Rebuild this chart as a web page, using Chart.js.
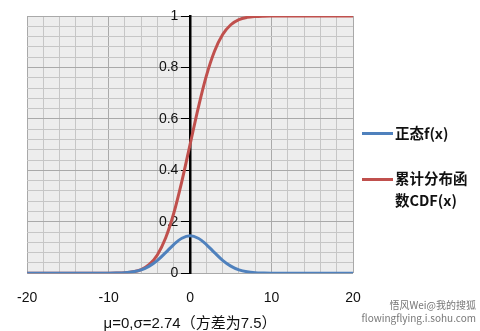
<!DOCTYPE html>
<html>
<head>
<meta charset="utf-8">
<script src="https://cdn.jsdelivr.net/npm/chart.js@4"></script>
<style>
  body { margin: 0; background: #fff; }
  #wrap { position: relative; width: 480px; height: 331px; }
  .lg { position: absolute; font-family: "Noto Sans CJK SC", sans-serif; font-weight: bold; font-size: 14.5px; color: #111; line-height: 22px; }
  .sw { position: absolute; height: 3px; width: 31px; }
  .wm { position: absolute; font-family: "Noto Sans CJK SC", sans-serif; font-size: 10px; color: #777; line-height: 13px; text-align: right; }
</style>
</head>
<body>
<div id="wrap">
  <canvas id="chart" width="480" height="331"></canvas>
  <div class="sw" style="left:362px;top:132px;background:#4f81bd"></div>
  <div class="lg" style="left:395px;top:122px">正态f(x)</div>
  <div class="sw" style="left:362px;top:178px;background:#c0504d"></div>
  <div class="lg" style="left:395px;top:167px;width:84px">累计分布函<br>数CDF(x)</div>
  <div class="wm" style="right:4px;top:298px">悟风Wei@我的搜狐<br>flowingflying.i.sohu.com</div>
</div>
<script>
const xValues = [-20,-19,-18,-17,-16,-15,-14,-13,-12,-11,-10,-9,-8,-7,-6,-5,-4,-3,-2,-1,0,
                 1,2,3,4,5,6,7,8,9,10,11,12,13,14,15,16,17,18,19,20];
const pdfValues = [0,0,0,0,0,0,0,0,0,0,0,0.0007,0.002,0.0055,0.0132,0.0275,0.050,0.080,0.1115,0.136,0.1456,
                   0.136,0.1115,0.080,0.050,0.0275,0.0132,0.0055,0.002,0.0007,0,0,0,0,0,0,0,0,0,0,0];
const cdfValues = [0,0,0,0,0,0,0,0,0,0,0.0001,0.0005,0.0018,0.0053,0.014,0.034,0.072,0.137,0.233,0.358,0.5,
                   0.642,0.767,0.863,0.928,0.966,0.986,0.9947,0.9982,0.9995,0.9999,1,1,1,1,1,1,1,1,1,1];
const xTicks = [-20, -10, 0, 10, 20];
const yTicks = [0, 0.2, 0.4, 0.6, 0.8, 1];

function toPoints(values) {
    return xValues.map((x, i) => ({ x: x, y: values[i] }));
}

const plotBg = {
    id: 'plotBg',
    beforeDraw(chart) {
        const a = chart.chartArea;
        chart.ctx.save();
        chart.ctx.fillStyle = '#ededed';
        chart.ctx.fillRect(a.left, a.top, a.right - a.left, a.bottom - a.top);
        chart.ctx.restore();
    }
};

const isMajorX = v => Math.abs(v % 10) < 1e-6;
const isMajorY = v => Math.abs(Math.round(v * 5) - v * 5) < 1e-6;

const config = {
    type: 'line',
    data: {
        datasets: [
            {
                label: '正态f(x)',
                data: toPoints(pdfValues),
                borderColor: '#4f81bd',
                borderWidth: 3,
                pointRadius: 0,
                cubicInterpolationMode: 'monotone',
            },
            {
                label: '累计分布函数CDF(x)',
                data: toPoints(cdfValues),
                borderColor: '#c0504d',
                borderWidth: 3,
                pointRadius: 0,
                cubicInterpolationMode: 'monotone',
            },
        ],
    },
    options: {
        responsive: false,
        animation: false,
        layout: { padding: { left: 8, right: 127, top: 16, bottom: -2 } },
        plugins: { legend: { display: false }, tooltip: { enabled: false } },
        scales: {
            x: {
                type: 'linear',
                min: -20,
                max: 20,
                border: { display: false },
                grid: {
                    color: ctx => isMajorX(ctx.tick.value) ? '#a9a9a9' : '#c6c6c6',
                    drawTicks: false,
                },
                ticks: {
                    stepSize: 2,
                    padding: 17,
                    maxRotation: 0,
                    autoSkip: false,
                    color: '#111',
                    font: { family: 'Liberation Sans', size: 14 },
                    callback: v => xTicks.includes(v) ? String(v) : '',
                },
                title: {
                    display: true,
                    text: 'μ=0,σ=2.74（方差为7.5）',
                    color: '#111',
                    font: { family: '"Liberation Sans", "Noto Sans CJK SC"', size: 15 },
                    padding: { top: -9, bottom: 0 },
                },
            },
            y: {
                position: { x: 0 },
                min: 0,
                max: 1,
                border: { display: true, color: '#000', width: 2.5 },
                grid: {
                    color: ctx => isMajorY(ctx.tick.value) ? '#a9a9a9' : '#c6c6c6',
                    tickColor: ctx => isMajorY(ctx.tick.value) ? '#000' : 'rgba(0,0,0,0)',
                    tickLength: 8,
                },
                ticks: {
                    stepSize: 0.04,
                    autoSkip: false,
                    color: '#111',
                    font: { family: 'Liberation Sans', size: 14 },
                    // labels sit right-aligned on the axis line, so pad with spaces
                    callback: v => {
                        const r = Math.round(v * 100) / 100;
                        return yTicks.includes(r) ? String(r) + '\u00a0\u00a0\u00a0' : '';
                    },
                },
            },
        },
    },
    plugins: [plotBg],
};

window.myChart = new Chart(document.getElementById('chart'), config);
</script>
</body>
</html>
